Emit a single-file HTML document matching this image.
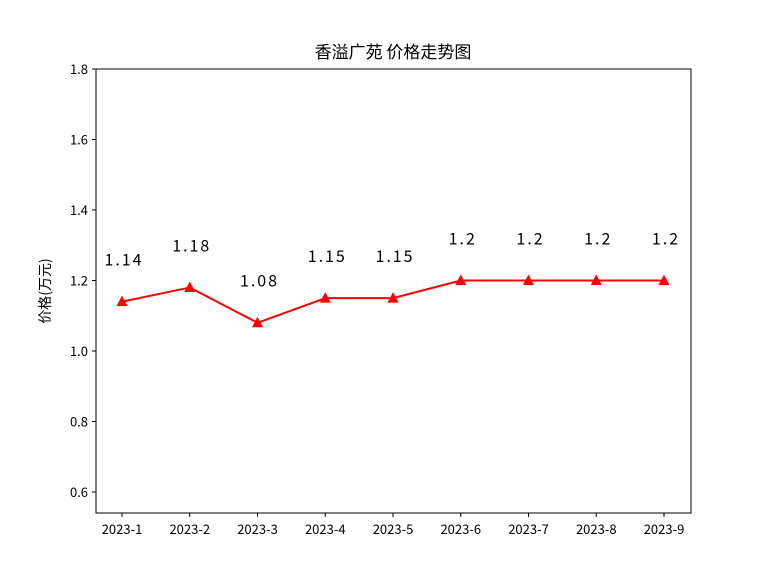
<!DOCTYPE html>
<html><head><meta charset="utf-8"><style>
body{margin:0;background:#fff;}
svg{display:block;font-family:"WenQuanYi Zen Hei","Noto Sans CJK SC","Liberation Sans",sans-serif;}
</style></head><body>
<svg id="chart" width="768" height="576">
<rect width="768" height="576" fill="#fff"/>
<text x="393" y="58" text-anchor="middle" font-size="17">香溢广苑 价格走势图</text>
<text transform="translate(50,291) rotate(-90)" text-anchor="middle" font-size="14">价格(万元)</text>
<g id="ticks"></g>
<g id="series"></g>
<rect x="96" y="69" width="595" height="444" fill="none" stroke="#000" stroke-width="1"/>
</svg>
<script>
const categories=["2023-1","2023-2","2023-3","2023-4","2023-5","2023-6","2023-7","2023-8","2023-9"];
const prices=[1.14,1.18,1.08,1.15,1.15,1.2,1.2,1.2,1.2];
const priceLabels=["1.14","1.18","1.08","1.15","1.15","1.2","1.2","1.2","1.2"];
const yTicks=[0.6,0.8,1.0,1.2,1.4,1.6,1.8];
const yTickLabels=["0.6","0.8","1.0","1.2","1.4","1.6","1.8"];
const NS="http://www.w3.org/2000/svg";
const xs=i=>122+i*67.75;
const ys=v=>351-(v-1.0)*352.5;
const tg=document.getElementById('ticks'),sg=document.getElementById('series');
function mk(tag,attrs,parent){const e=document.createElementNS(NS,tag);for(const k in attrs)e.setAttribute(k,attrs[k]);parent.appendChild(e);return e;}
yTicks.forEach((v,i)=>{
 const l=mk('line',{x1:92,x2:96,y1:ys(v),y2:ys(v),stroke:'#000'},tg);
 
 
 const t=mk('text',{x:88,y:ys(v)+5,'text-anchor':'end','font-size':13},tg);
 t.textContent=yTickLabels[i];
 
 
});
categories.forEach((c,i)=>{
 const l=mk('line',{x1:xs(i),x2:xs(i),y1:513,y2:517,stroke:'#000'},tg);
 
 
 const t=mk('text',{x:xs(i),y:534,'text-anchor':'middle','font-size':13},tg);
 t.textContent=c;
 
 
});
const pl=mk('polyline',{points:prices.map((v,i)=>xs(i)+','+ys(v)).join(' '),fill:'none',stroke:'#f00','stroke-width':2},sg);


prices.forEach((v,i)=>{
 const x=xs(i),y=ys(v);
 const m=mk('polygon',{points:`${x},${y-6} ${x-5.5},${y+4.5} ${x+5.5},${y+4.5}`,fill:'#f00'},sg);
 
 
 const t=mk('text',{x:x+2,y:ys(v+0.1)-1,'text-anchor':'middle','font-size':16,'letter-spacing':'2'},sg);
 t.textContent=priceLabels[i];
 
 
});
</script>
</body></html>
